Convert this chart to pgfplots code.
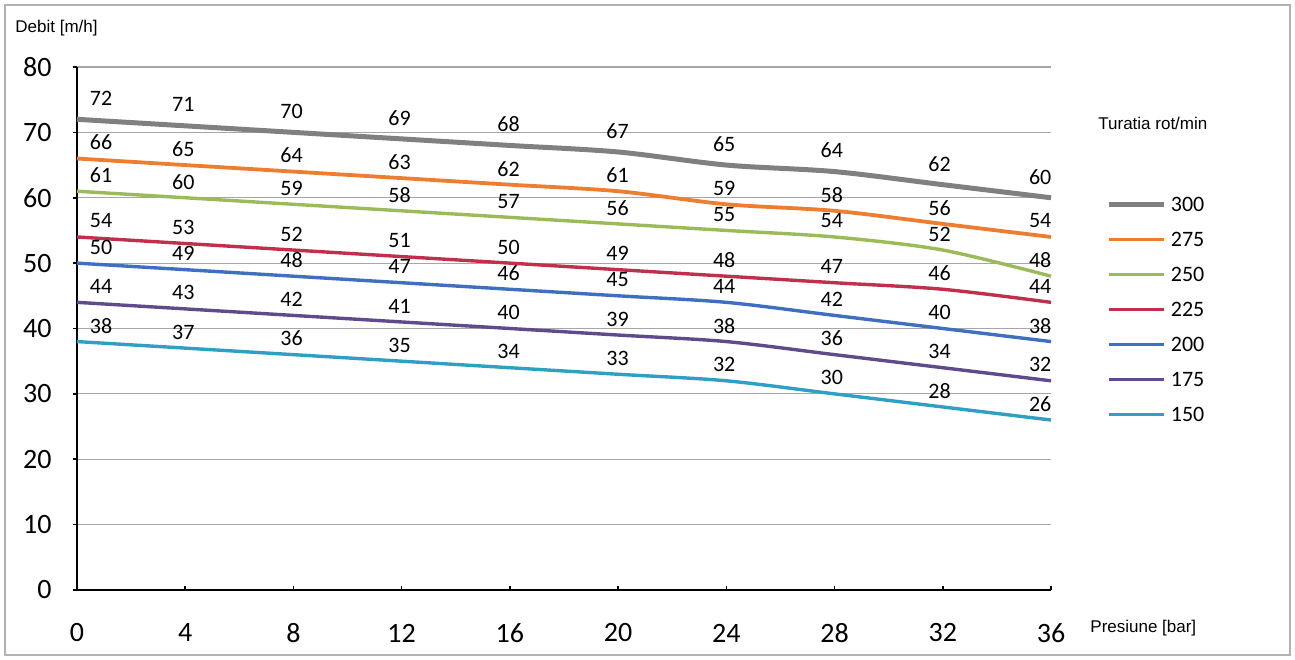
\documentclass[border=0pt]{standalone}
\usepackage{pgfplots}
\pgfplotsset{compat=1.18}
\usepackage{fontspec}
\setmainfont{Carlito}
\newfontfamily\arial{Liberation Sans}
\definecolor{c300}{HTML}{808080}
\definecolor{c275}{HTML}{ED7D31}
\definecolor{c250}{HTML}{9BBB59}
\definecolor{c225}{HTML}{C0304D}
\definecolor{c200}{HTML}{3F6FC0}
\definecolor{c175}{HTML}{5F4B8B}
\definecolor{c150}{HTML}{2FA0C4}
\pgfplotsset{
  lbl/.style={draw=none, mark=none, forget plot, nodes near coords, point meta=explicit symbolic,
    every node near coord/.style={anchor=center, yshift=#1, inner sep=0pt, font=\fontsize{11}{11}\selectfont, text=black}},
  lbl/.default=8pt
}
\begin{document}
\begin{tikzpicture}
\path[use as bounding box] (0,0) rectangle (647.5pt,329.5pt);
\draw[black!30, line width=1pt] (2.5pt,2pt) rectangle (645pt,327pt);
\begin{axis}[
  at={(38.5pt,34.5pt)}, anchor=south west,
  scale only axis, width=487pt, height=261.5pt,
  xmin=0, xmax=36, ymin=0, ymax=80,
  xtick={0,4,...,36}, ytick={0,10,...,80},
  axis lines*=left,
  axis line style={black, line width=1pt},
  tick align=inside, major tick length=2pt,
  tick style={black, line width=0.8pt},
  ytick style={xshift=-2pt},
  ymajorgrids, grid style={black!35, line width=0.6pt},
  /pgf/number format/assume math mode=true,
  ticklabel style={font=\fontsize{14}{14}\selectfont, inner sep=0pt},
  xticklabel style={anchor=center, yshift=-21.5pt},
  yticklabel style={anchor=east, xshift=-12.5pt},
  clip=false,
  legend style={at={(1.057,0.755)}, anchor=north west, draw=none, fill=none,
    font=\fontsize{11}{11}\selectfont, row sep=8.5pt, column sep=1pt, inner sep=0pt,
    nodes={inner sep=1pt, text height=7pt, text depth=0pt}},
  legend cell align=left,
  legend image code/.code={\draw[#1] (0pt,0pt) -- (27.5pt,0pt);},
  every axis plot/.append style={smooth, tension=0.5},
]
\addplot[c300, line width=2.5pt] coordinates {(0,72)(4,71)(8,70)(12,69)(16,68)(20,67)(24,65)(28,64)(32,62)(36,60)};
\addlegendentry{300}
\addplot[c275, line width=1.9pt] coordinates {(0,66)(4,65)(8,64)(12,63)(16,62)(20,61)(24,59)(28,58)(32,56)(36,54)};
\addlegendentry{275}
\addplot[c250, line width=1.7pt] coordinates {(0,61)(4,60)(8,59)(12,58)(16,57)(20,56)(24,55)(28,54)(32,52)(36,48)};
\addlegendentry{250}
\addplot[c225, line width=1.7pt] coordinates {(0,54)(4,53)(8,52)(12,51)(16,50)(20,49)(24,48)(28,47)(32,46)(36,44)};
\addlegendentry{225}
\addplot[c200, line width=1.7pt] coordinates {(0,50)(4,49)(8,48)(12,47)(16,46)(20,45)(24,44)(28,42)(32,40)(36,38)};
\addlegendentry{200}
\addplot[c175, line width=1.7pt] coordinates {(0,44)(4,43)(8,42)(12,41)(16,40)(20,39)(24,38)(28,36)(32,34)(36,32)};
\addlegendentry{175}
\addplot[c150, line width=1.7pt] coordinates {(0,38)(4,37)(8,36)(12,35)(16,34)(20,33)(24,32)(28,30)(32,28)(36,26)};
\addlegendentry{150}
% data labels
\addplot[lbl=10.5pt] coordinates {(0.89,72)[72](3.93,71)[71](7.93,70)[70](11.92,69)[69](15.95,68)[68](19.98,67)[67](23.92,65)[65](27.9,64)[64](31.88,62)[62](35.6,60)[60]};
\addplot[lbl] coordinates {(0.89,66)[66](3.93,65)[65](7.93,64)[64](11.92,63)[63](15.95,62)[62](19.98,61)[61](23.92,59)[59](27.9,58)[58](31.88,56)[56](35.6,54)[54]};
\addplot[lbl] coordinates {(0.89,61)[61](3.93,60)[60](7.93,59)[59](11.92,58)[58](15.95,57)[57](19.98,56)[56](23.92,55)[55](27.9,54)[54](31.88,52)[52](35.6,48)[48]};
\addplot[lbl] coordinates {(0.89,54)[54](3.93,53)[53](7.93,52)[52](11.92,51)[51](15.95,50)[50](19.98,49)[49](23.92,48)[48](27.9,47)[47](31.88,46)[46](35.6,44)[44]};
\addplot[lbl] coordinates {(0.89,50)[50](3.93,49)[49](7.93,48)[48](11.92,47)[47](15.95,46)[46](19.98,45)[45](23.92,44)[44](27.9,42)[42](31.88,40)[40](35.6,38)[38]};
\addplot[lbl] coordinates {(0.89,44)[44](3.93,43)[43](7.93,42)[42](11.92,41)[41](15.95,40)[40](19.98,39)[39](23.92,38)[38](27.9,36)[36](31.88,34)[34](35.6,32)[32]};
\addplot[lbl] coordinates {(0.89,38)[38](3.93,37)[37](7.93,36)[36](11.92,35)[35](15.95,34)[34](19.98,33)[33](23.92,32)[32](27.9,30)[30](31.88,28)[28](35.6,26)[26]};
\end{axis}
\node[anchor=west, inner sep=0pt, font=\arial\fontsize{8.5}{8.5}\selectfont] at (7.5pt,315.5pt) {Debit [m/h]};
\node[anchor=west, inner sep=0pt, font=\arial\fontsize{8.5}{8.5}\selectfont] at (545pt,15.5pt) {Presiune [bar]};
\node[anchor=west, inner sep=0pt, font=\arial\fontsize{8.5}{8.5}\selectfont] at (549pt,268pt) {Turatia rot/min};
\end{tikzpicture}
\end{document}
